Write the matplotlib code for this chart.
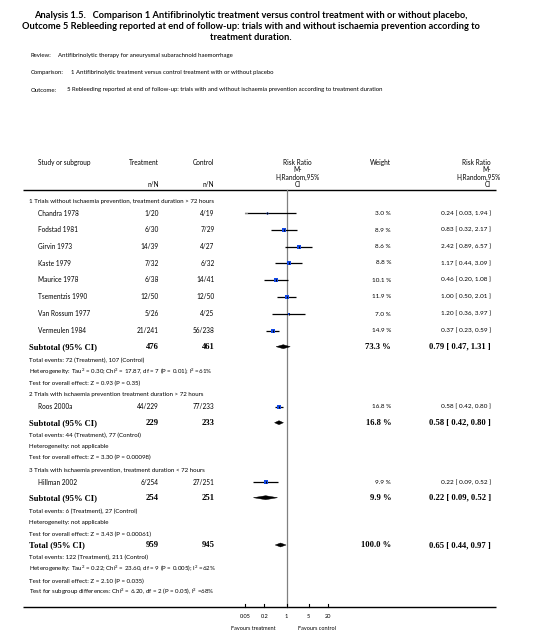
import matplotlib
matplotlib.use('Agg')
import matplotlib.pyplot as plt
import numpy as np
from matplotlib.patches import Polygon

plt.rcParams['mathtext.fontset'] = 'custom'
plt.rcParams['mathtext.rm'] = 'Lato'
plt.rcParams['mathtext.it'] = 'Lato:italic'
plt.rcParams['mathtext.bf'] = 'Lato:bold'
plt.rcParams['mathtext.default'] = 'rm'

# ---------------- data ----------------
title_lines = [
    "Analysis 1.5.   Comparison 1 Antifibrinolytic treatment versus control treatment with or without placebo,",
    "Outcome 5 Rebleeding reported at end of follow-up: trials with and without ischaemia prevention according to",
    "treatment duration.",
]
meta_labels = ["Review:", "Comparison:", "Outcome:"]
meta_values = [
    "Antifibrinolytic therapy for aneurysmal subarachnoid haemorrhage",
    "1 Antifibrinolytic treatment versus control treatment with or without placebo",
    "5 Rebleeding reported at end of follow-up: trials with and without ischaemia prevention according to treatment duration",
]
group_titles = [
    "1 Trials without ischaemia prevention, treatment duration > 72 hours",
    "2 Trials with ischaemia prevention treatment duration > 72 hours",
    "3 Trials with ischaemia prevention, treatment duration < 72 hours",
]
studies = ["Chandra 1978", "Fodstad 1981", "Girvin 1973", "Kaste 1979", "Maurice 1978",
           "Tsementzis 1990", "Van Rossum 1977", "Vermeulen 1984", "Roos 2000a", "Hillman 2002"]
treat_nN = ["1/20", "6/30", "14/39", "7/32", "6/38", "12/50", "5/26", "21/241", "44/229", "6/254"]
ctrl_nN = ["4/19", "7/29", "4/27", "6/32", "14/41", "12/50", "4/25", "56/238", "77/233", "27/251"]
rr = [0.24, 0.83, 2.42, 1.17, 0.46, 1.00, 1.20, 0.37, 0.58, 0.22]
rr_lo = [0.03, 0.32, 0.89, 0.44, 0.20, 0.50, 0.36, 0.23, 0.42, 0.09]
rr_hi = [1.94, 2.17, 6.57, 3.09, 1.08, 2.01, 3.97, 0.59, 0.80, 0.52]
weights = [3.0, 8.9, 8.6, 8.8, 10.1, 11.9, 7.0, 14.9, 16.8, 9.9]

sub_rr = [0.79, 0.58, 0.22]
sub_lo = [0.47, 0.42, 0.09]
sub_hi = [1.31, 0.80, 0.52]
sub_w = [73.3, 16.8, 9.9]
sub_nt = [476, 229, 254]
sub_nc = [461, 233, 251]
sub_notes = [
    ["Total events: 72 (Treatment), 107 (Control)",
     "Heterogeneity: Tau$^{2}$ = 0.30; Chi$^{2}$ = 17.87, df = 7 (P = 0.01); I$^{2}$ =61%",
     "Test for overall effect: Z = 0.93 (P = 0.35)"],
    ["Total events: 44 (Treatment), 77 (Control)",
     "Heterogeneity: not applicable",
     "Test for overall effect: Z = 3.30 (P = 0.00098)"],
    ["Total events: 6 (Treatment), 27 (Control)",
     "Heterogeneity: not applicable",
     "Test for overall effect: Z = 3.43 (P = 0.00061)"],
]
total_rr, total_lo, total_hi = 0.65, 0.44, 0.97
total_w = 100.0
total_nt, total_nc = 959, 945
total_notes = [
    "Total events: 122 (Treatment), 211 (Control)",
    "Heterogeneity: Tau$^{2}$ = 0.22; Chi$^{2}$ = 23.60, df = 9 (P = 0.005); I$^{2}$ =62%",
    "Test for overall effect: Z = 2.10 (P = 0.035)",
    "Test for subgroup differences: Chi$^{2}$ = 6.20, df = 2 (P = 0.05), I$^{2}$ =68%",
]
tick_vals = [0.05, 0.2, 1, 5, 20]
tick_labels = ["0.05", "0.2", "1", "5", "20"]
favours = ["Favours treatment", "Favours control"]

# ---------------- layout (pixels) ----------------
W, H = 542, 634
study_y = [213.3, 230.0, 246.7, 263.0, 280.0, 296.7, 314.0, 330.7, 406.7, 482.3]
group_y = [201.7, 394.3, 470.7]
sub_y = [346.7, 422.7, 497.7]
sub_note_y = [[360.7, 371.5, 383.3], [435.7, 446.3, 457.3], [511.0, 522.3, 534.0]]
total_y = 545.0
total_note_y = [557.7, 569.0, 581.0, 592.3]
x_study, x_group = 37.7, 29.3
x_treat, x_ctrl = 159.0, 214.5
x_weight, x_rrtxt = 391.0, 491.0

SANS = 'Lato'
BODY = 4.7
NOTE = 4.4
VAL = 4.6
SERIF = 'Liberation Serif'
BOLD = 6.2
BLUE = '#1248e6'

fig = plt.figure(figsize=(W / 100, H / 100), dpi=100)
T = fig.add_axes([0, 0, 1, 1])
T.set_xlim(0, W)
T.set_ylim(H, 0)
T.axis('off')

# forest axes: 0.05 at px 245.3, 20 at px 327.7
fx0, fx1 = 245.3, 327.7
F = fig.add_axes([fx0 / W, 0, (fx1 - fx0) / W, 1])
F.set_xscale('log')
F.set_xlim(0.05, 20)
F.set_ylim(H, 0)
F.axis('off')

def txt(x, y, s, ha='left', size=BODY, bold=False, serif=False, **kw):
    T.text(x, y, s, ha=ha, va='center', fontsize=size,
           fontfamily=SERIF if serif else SANS,
           fontweight='bold' if bold else 'normal', color='black', **kw)

# title
for s, y in zip(title_lines, [15.0, 26.5, 37.5]):
    txt(251, y, s, ha='center', size=6.7, bold=True)
for lab, val, y, xv in zip(meta_labels, meta_values, [55.5, 72.7, 90.0], [58.3, 70.7, 66.7]):
    txt(30.7, y, lab, size=4.3)
    txt(xv, y, val, size=4.3)

# column headers
txt(x_study, 162.7, "Study or subgroup", size=BODY)
txt(x_treat, 162.7, "Treatment", ha='right', size=BODY)
txt(x_ctrl, 162.7, "Control", ha='right', size=BODY)
txt(x_treat, 184.3, "n/N", ha='right', size=BODY)
txt(x_ctrl, 184.3, "n/N", ha='right', size=BODY)
for s, y in zip(["Risk Ratio", "M-", "H,Random,95%", "CI"], [162.7, 170.0, 177.0, 184.3]):
    txt(297.5, y, s, ha='center', size=BODY)
txt(x_weight, 162.7, "Weight", ha='right', size=BODY)
for s, y in zip(["Risk Ratio", "M-", "H,Random,95%", "CI"], [162.7, 170.0, 177.0, 184.3]):
    txt(491.0 if s != "H,Random,95%" else 500.5, y, s, ha='right', size=BODY)

# rules
T.plot([23, 496], [189.5, 189.5], color='black', lw=1.0, solid_capstyle='butt')
T.plot([23, 496], [606.7, 606.7], color='black', lw=1.0, solid_capstyle='butt')

# null line
F.plot([1, 1], [189.5, 606.7], color='#808080', lw=0.9, zorder=1)

# group titles
for g, y in zip(group_titles, group_y):
    txt(x_group, y, g, size=NOTE)

# studies
for i, name in enumerate(studies):
    y = study_y[i]
    txt(x_study, y, name, size=BODY)
    txt(x_treat, y, treat_nN[i], ha='right', size=BODY)
    txt(x_ctrl, y, ctrl_nN[i], ha='right', size=BODY)
    txt(x_weight, y, f"{weights[i]:.1f} %", ha='right', size=VAL)
    txt(x_rrtxt, y, f"{rr[i]:.2f} [ {rr_lo[i]:.2f}, {rr_hi[i]:.2f} ]", ha='right', size=VAL)
    F.plot([rr_lo[i], rr_hi[i]], [y, y], color='black', lw=0.9, zorder=2,
           solid_capstyle='butt')
    ms = 2.9 * np.sqrt(weights[i] / 14.9)
    F.plot([rr[i]], [y], marker='s', ms=ms, color=BLUE, mec=BLUE, mew=0, zorder=3)
    F.plot([rr[i]], [y], marker='|', ms=2.0, color='black', mew=0.7, zorder=4)
    if rr_lo[i] < 0.05:
        F.plot([0.05, 0.056], [y - 0.8, y - 0.8], color='#888888', lw=0.8, zorder=4,
               clip_on=False)

def diamond(c, lo, hi, y, h=2.0):
    F.add_patch(Polygon([[lo, y], [c, y - h], [hi, y], [c, y + h]], closed=True,
                        facecolor='black', edgecolor='black', lw=0.3, zorder=3))

# subtotals
for k in range(3):
    y = sub_y[k]
    txt(x_group, y, "Subtotal (95% CI)", size=BOLD, bold=True, serif=True)
    txt(x_treat, y, str(sub_nt[k]), ha='right', size=BOLD, bold=True, serif=True)
    txt(x_ctrl, y, str(sub_nc[k]), ha='right', size=BOLD, bold=True, serif=True)
    txt(x_weight, y, f"{sub_w[k]:.1f} %", ha='right', size=BOLD, bold=True, serif=True)
    txt(x_rrtxt, y, f"{sub_rr[k]:.2f} [ {sub_lo[k]:.2f}, {sub_hi[k]:.2f} ]", ha='right',
        size=BOLD, bold=True, serif=True)
    diamond(sub_rr[k], sub_lo[k], sub_hi[k], y)
    for s, yy in zip(sub_notes[k], sub_note_y[k]):
        txt(x_group, yy, s, size=NOTE)

# total
txt(x_group, total_y, "Total (95% CI)", size=BOLD, bold=True, serif=True)
txt(x_treat, total_y, str(total_nt), ha='right', size=BOLD, bold=True, serif=True)
txt(x_ctrl, total_y, str(total_nc), ha='right', size=BOLD, bold=True, serif=True)
txt(x_weight, total_y, f"{total_w:.1f} %", ha='right', size=BOLD, bold=True, serif=True)
txt(x_rrtxt, total_y, f"{total_rr:.2f} [ {total_lo:.2f}, {total_hi:.2f} ]", ha='right',
    size=BOLD, bold=True, serif=True)
diamond(total_rr, total_lo, total_hi, total_y)
for s, yy in zip(total_notes, total_note_y):
    txt(x_group, yy, s, size=NOTE)

# axis ticks
for v, lab in zip(tick_vals, tick_labels):
    F.plot([v, v], [603.5, 606.7], color='black', lw=0.8, clip_on=False)
    F.text(v, 616.7, lab, ha='center', va='center', fontsize=4.1, fontfamily=SANS)
T.text(253.7, 628.3, favours[0], ha='center', va='center', fontsize=4.0, fontfamily=SANS)
T.text(316.8, 628.3, favours[1], ha='center', va='center', fontsize=4.0, fontfamily=SANS)

fig.savefig('out.png', dpi=100, facecolor='white')
